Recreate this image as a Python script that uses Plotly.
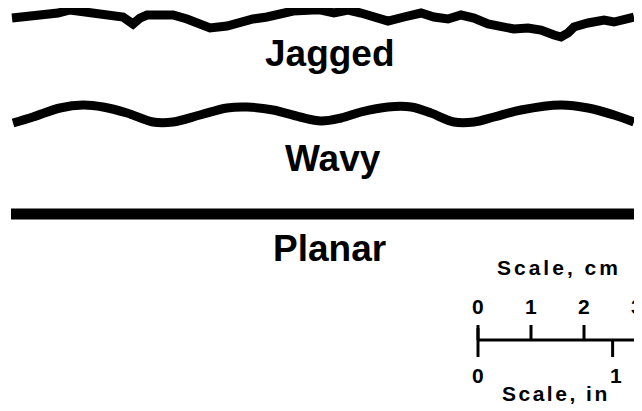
import plotly.graph_objects as go

# ---- data (drawing units = page pixels, y grows downward) ----
jagged_x = [12, 27, 43, 58, 70, 80, 93, 113, 123, 133, 140, 147, 160, 173, 187, 200, 210, 227, 240, 253,
            267, 280, 293, 313, 321, 334, 348, 361, 374, 388, 404, 421, 434, 448, 461, 474, 488, 501, 514,
            528, 541, 554, 561, 568, 574, 588, 604, 614, 628, 634]
jagged_y = [18, 17, 15, 13, 10, 11, 13, 14, 17, 24, 18, 15, 16, 15, 19, 24, 28, 26, 22, 19,
            17, 13, 11, 10, 10, 13, 10, 13, 17, 21, 17, 13, 17, 19, 15, 18, 24, 27, 29,
            28, 30, 35, 37, 33, 27, 23, 20, 22, 18, 17]

wavy_x = [13, 33, 60, 83, 103, 127, 153, 173, 200, 227, 247, 273, 300, 321, 341, 361, 388, 411, 431,
          454, 474, 494, 521, 561, 588, 614, 634]
wavy_y = [123, 117, 108, 105, 107, 113, 122, 122, 115, 108, 107, 110, 117, 121, 118, 112, 107, 107, 113,
          122, 122, 117, 110, 105, 108, 115, 122]

planar_x = [11, 638]
planar_y = [214, 214]

profile_labels = ["Jagged", "Wavy", "Planar"]
label_x = [330, 333, 329]
label_y = [53.5, 158, 248]

cm_ticks = [0, 1, 2, 3]
in_ticks = [0, 1]
cm_per_in = 2.54
scale_title_cm = "Scale, cm"
scale_title_in = "Scale, in"

# scale-bar placement (drawing units)
bar_x0 = 478
bar_y = 340
units_per_cm = 53.0
cm_tick_len = 15
in_tick_len = 17

# page offset of the plot div (browser default body margin)
page_off = 8
page_w, page_h = 642, 411

fig = go.Figure()

line_kw = dict(mode="lines", hoverinfo="skip", showlegend=False)
fig.add_trace(go.Scatter(x=jagged_x, y=jagged_y, line=dict(color="black", width=9), **line_kw))
fig.add_trace(go.Scatter(x=wavy_x, y=wavy_y, line=dict(color="black", width=9, shape="spline", smoothing=1.0), **line_kw))
fig.add_trace(go.Scatter(x=planar_x, y=planar_y, line=dict(color="black", width=11), **line_kw))

# scale bar
cm_pos = [bar_x0 + v * units_per_cm for v in cm_ticks]
in_pos = [bar_x0 + v * cm_per_in * units_per_cm for v in in_ticks]
fig.add_trace(go.Scatter(x=[cm_pos[0], cm_pos[-1]], y=[bar_y, bar_y],
                         line=dict(color="black", width=3), **line_kw))
tx, ty = [], []
for p in cm_pos:
    tx += [p, p, None]
    ty += [bar_y, bar_y - cm_tick_len, None]
for p in in_pos:
    tx += [p, p, None]
    ty += [bar_y, bar_y + in_tick_len, None]
tx += [cm_pos[0], cm_pos[0], None]
ty += [bar_y, bar_y - 12, None]
fig.add_trace(go.Scatter(x=tx, y=ty, line=dict(color="black", width=3), **line_kw))

fam = "Liberation Sans, Arial, Helvetica, sans-serif"
font_big = dict(family=fam, size=37, color="black")
font_small = dict(family=fam, size=21, color="black")

ann = []
for t, x, y in zip(profile_labels, label_x, label_y):
    ann.append(dict(x=x, y=y, text=f"<b>{t}</b>",
                    showarrow=False, font=font_big, xanchor="center", yanchor="middle"))
for v, p in zip(cm_ticks, cm_pos):
    ann.append(dict(x=p, y=bar_y - 34, text=f"<b>{v}</b>", showarrow=False, font=font_small,
                    xanchor="center", yanchor="middle"))
for v, p in zip(in_ticks, in_pos):
    ann.append(dict(x=p + (3 if v else 0), y=bar_y + 35, text=f"<b>{v}</b>", showarrow=False, font=font_small,
                    xanchor="center", yanchor="middle"))
ann.append(dict(x=559, y=267.5, text=f'<b><span style="letter-spacing:3px">{scale_title_cm}</span></b>',
                showarrow=False, font=font_small, xanchor="center", yanchor="middle"))
ann.append(dict(x=556, y=393, text=f'<b><span style="letter-spacing:2.5px">{scale_title_in}</span></b>',
                showarrow=False, font=font_small, xanchor="center", yanchor="middle"))

fig.update_layout(
    width=page_w - page_off, height=page_h - page_off,
    margin=dict(l=0, r=0, t=0, b=0),
    paper_bgcolor="white", plot_bgcolor="white",
    xaxis=dict(range=[page_off, page_w], visible=False, fixedrange=True),
    yaxis=dict(range=[page_h, page_off], visible=False, fixedrange=True),
    annotations=ann,
    showlegend=False,
)

fig.write_html("out.html", config={"displayModeBar": False})
